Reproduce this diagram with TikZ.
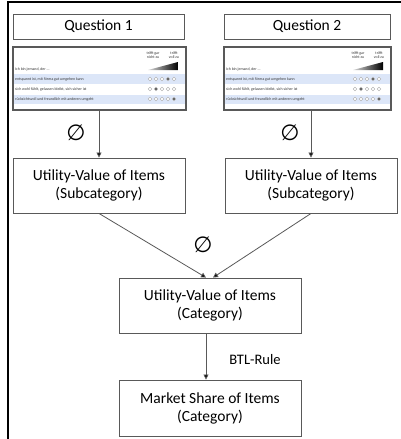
\documentclass[tikz,border=0pt]{standalone}
\usepackage{fontspec}
\setmainfont{Carlito}
\newfontfamily\symfont{DejaVu Sans}
\usetikzlibrary{arrows.meta}
\definecolor{boxline}{HTML}{595959}
\definecolor{band}{HTML}{DCE6F8}
\definecolor{qtext}{HTML}{333333}
\tikzset{
  box/.style={draw=boxline, line width=0.9pt, fill=white, align=center, font=\fontsize{15.5}{18}\selectfont, inner sep=0pt},
  conn/.style={draw=boxline, line width=0.8pt, -{Triangle[length=5pt,width=5pt,fill=black]}},
  avg/.style={font=\symfont\fontsize{22}{22}\selectfont, inner sep=0pt},
  tiny/.style={font=\fontsize{3.9}{4.1}\selectfont, text=qtext, inner sep=0pt},
  opt/.style={draw=gray!70, line width=0.3pt, fill=white},
}
\newcommand{\questionnaire}[4]{% name, left x, top y, width
  \begin{scope}[shift={(#2,#3)}]
    \fill[white] (0,0) rectangle (#4,63);
    \fill[band] (1,27) rectangle (#4-1,36.5);
    \fill[band] (1,47.5) rectangle (#4-1,57);
    \node[tiny, align=center] (#1h1) at (#4-33,8) {trifft gar\\nicht zu};
    \node[tiny, align=center] (#1h2) at (#4-12,8) {trifft\\voll zu};
    \shade[left color=white!85!black, right color=black] (#4-38,23) -- (#4-8,23) -- (#4-8,15) -- cycle;
    \node[tiny, anchor=west] (#1r0) at (2,22) {Ich bin jemand, der ...};
    \node[tiny, anchor=west] (#1r1) at (2,32) {entspannt ist, mit Stress gut umgehen kann};
    \node[tiny, anchor=west] (#1r2) at (2,42) {sich wohl fühlt, gelassen bleibt, sich sicher ist};
    \node[tiny, anchor=west] (#1r3) at (2,52) {rücksichtsvoll und freundlich mit anderen umgeht};
    \foreach \k in {0,...,4} {
      \draw[opt] (#4-36+6*\k,32) circle (1.8);
      \draw[opt] (#4-36+6*\k,42) circle (1.8);
      \draw[opt] (#4-36+6*\k,52) circle (1.8);
    }
    \fill[black!80] (#4-36+18,32) circle (1.1);
    \fill[black!80] (#4-36+6,42) circle (1.1);
    \fill[black!80] (#4-36+24,52) circle (1.1);
    \draw[boxline, line width=1.2pt] (0,0) rectangle (#4,63);
    \coordinate (#1) at (#4/2,31.5);
    \coordinate (#1s) at (#4/2,63);
  \end{scope}
}
\begin{document}
\begin{tikzpicture}[x=1pt, y=-1pt]
  \useasboundingbox (0,0) rectangle (401,439);
  \fill[white] (0,0) rectangle (401,439);
  % frame
  \draw[black, line width=2pt] (8,439) -- (8,1.5) -- (401,1.5);
  % question boxes
  \node[box, minimum width=171pt, minimum height=25pt] (q1) at (98.5,26.5) {Question 1};
  \node[box, minimum width=166pt, minimum height=25pt] (q2) at (307,26.5) {Question 2};
  % questionnaires
  \questionnaire{qa}{13}{47}{173}
  \questionnaire{qb}{224}{47}{167}
  % subcategory boxes
  \node[box, minimum width=172pt, minimum height=55pt] (s1) at (99,185.5) {Utility-Value of Items\\(Subcategory)};
  \node[box, minimum width=172pt, minimum height=55pt] (s2) at (311,185.5) {Utility-Value of Items\\(Subcategory)};
  % category box
  \node[box, minimum width=182pt, minimum height=55pt] (c) at (210,305.5) {Utility-Value of Items\\(Category)};
  \node[box, minimum width=182pt, minimum height=56pt] (m) at (210,408) {Market Share of Items\\(Category)};
  % connectors
  \draw[conn] (qas -| s1.north) -- (s1.north);
  \draw[conn] (qbs -| s2.north) -- (s2.north);
  \draw[conn] (s1.south) -- ([xshift=-4pt]c.north);
  \draw[conn] (s2.south) -- ([xshift=3pt]c.north);
  \draw[conn] ([xshift=-4pt]c.south) -- ([xshift=-4pt]m.north);
  % labels
  \node[avg] (e1) at (76,133) {∅};
  \node[avg] (e2) at (290,133) {∅};
  \node[avg] (e3) at (203,245) {∅};
  \node[font=\fontsize{14.5}{17}\selectfont, inner sep=0pt] (btl) at (255,360) {BTL-Rule};
\end{tikzpicture}
\end{document}
